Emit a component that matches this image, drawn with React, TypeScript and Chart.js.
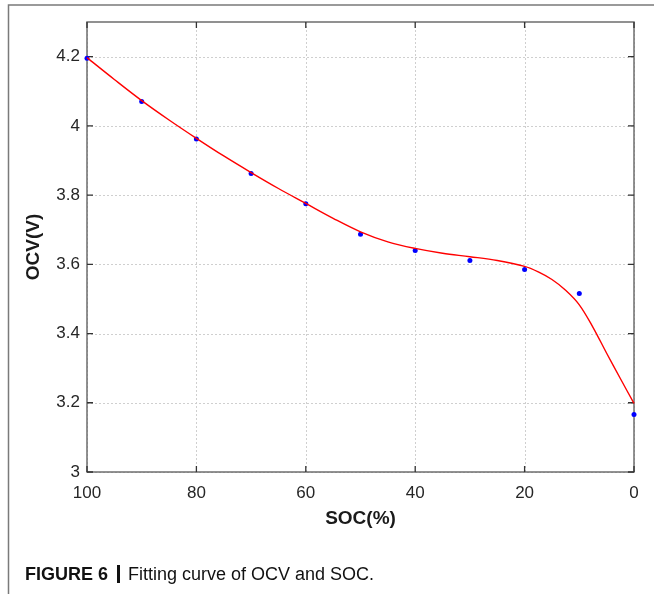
import React, { useEffect, useRef } from "react";
import { Chart, registerables } from "chart.js";

Chart.register(...registerables);

// Fitted curve
const socCurve = [100, 95, 90, 85, 80, 75, 70, 65, 60, 55, 50, 45, 40, 35, 30, 25, 20, 17.5, 15, 12.5, 10, 7.5, 5, 2.5, 0];
const ocvCurve = [4.197, 4.134, 4.073, 4.017, 3.964, 3.913, 3.865, 3.819, 3.776, 3.733, 3.694, 3.665, 3.646, 3.632, 3.622, 3.611, 3.594, 3.578, 3.556, 3.525, 3.483, 3.418, 3.343, 3.27, 3.198];

// Measured points
const socMeasured = [100, 90, 80, 70, 60, 50, 40, 30, 20, 10, 0];
const ocvMeasured = [4.195, 4.07, 3.962, 3.862, 3.775, 3.687, 3.64, 3.611, 3.585, 3.516, 3.166];

const xTicks = [100, 80, 60, 40, 20, 0];
const yTicks = [3, 3.2, 3.4, 3.6, 3.8, 4, 4.2];
const yTickLabels = ["3", "3.2", "3.4", "3.6", "3.8", "4", "4.2"];

const xTitle = "SOC(%)";
const yTitle = "OCV(V)";
const captionBold = "FIGURE 6";
const captionText = "Fitting curve of OCV and SOC.";

const FONT = "'Liberation Sans', Arial, Helvetica, sans-serif";

const framePlugin = {
  id: "framePlugin",
  beforeDatasetsDraw(chart: any) {
    const { ctx, chartArea } = chart;
    const xs = chart.scales.x;
    const ys = chart.scales.y;
    const { left, right, top, bottom } = chartArea;
    ctx.save();
    ctx.strokeStyle = "#cfcfcf";
    ctx.lineWidth = 1;
    ctx.setLineDash([2, 2]);
    xTicks.forEach((v) => {
      const px = Math.round(xs.getPixelForValue(v)) + 0.5;
      ctx.beginPath();
      ctx.moveTo(px, top);
      ctx.lineTo(px, bottom);
      ctx.stroke();
    });
    yTicks.forEach((v) => {
      const py = Math.round(ys.getPixelForValue(v)) + 0.5;
      ctx.beginPath();
      ctx.moveTo(left, py);
      ctx.lineTo(right, py);
      ctx.stroke();
    });
    ctx.setLineDash([]);
    ctx.strokeStyle = "#6e6e6e";
    ctx.lineWidth = 1.5;
    ctx.strokeRect(left, top, right - left, bottom - top);
    ctx.strokeStyle = "#333333";
    ctx.lineWidth = 1.3;
    const tl = 6;
    xTicks.forEach((v) => {
      const px = xs.getPixelForValue(v);
      ctx.beginPath();
      ctx.moveTo(px, bottom);
      ctx.lineTo(px, bottom - tl);
      ctx.moveTo(px, top);
      ctx.lineTo(px, top + tl);
      ctx.stroke();
    });
    yTicks.forEach((v) => {
      const py = ys.getPixelForValue(v);
      ctx.beginPath();
      ctx.moveTo(left, py);
      ctx.lineTo(left + tl, py);
      ctx.moveTo(right, py);
      ctx.lineTo(right - tl, py);
      ctx.stroke();
    });
    ctx.restore();
  },
  afterDraw(chart: any) {
    const { ctx, chartArea } = chart;
    ctx.save();
    ctx.strokeStyle = "#7a7a7a";
    ctx.lineWidth = 1.5;
    ctx.beginPath();
    ctx.moveTo(654, 5);
    ctx.lineTo(8.5, 5);
    ctx.lineTo(8.5, 594);
    ctx.stroke();
    ctx.fillStyle = "#1a1a1a";
    ctx.font = `bold 19px ${FONT}`;
    ctx.textAlign = "center";
    ctx.textBaseline = "middle";
    ctx.fillText(xTitle, (chartArea.left + chartArea.right) / 2, 519);
    ctx.save();
    ctx.translate(34, (chartArea.top + chartArea.bottom) / 2);
    ctx.rotate(-Math.PI / 2);
    ctx.fillText(yTitle, 0, 0);
    ctx.restore();
    ctx.textAlign = "left";
    ctx.textBaseline = "alphabetic";
    ctx.fillStyle = "#111111";
    ctx.font = `bold 18px ${FONT}`;
    ctx.fillText(captionBold, 25, 580);
    ctx.fillRect(117, 565, 3, 18);
    ctx.font = `18px ${FONT}`;
    ctx.fillText(captionText, 128, 580);
    ctx.restore();
  },
};

export default function App() {
  const ref = useRef<HTMLCanvasElement | null>(null);
  useEffect(() => {
    if (!ref.current) return;
    const chart = new Chart(ref.current, {
      type: "scatter",
      data: {
        datasets: [
          {
            label: "fit",
            data: socCurve.map((x, i) => ({ x, y: ocvCurve[i] })),
            showLine: true,
            borderColor: "#ff0000",
            borderWidth: 1.4,
            pointRadius: 0,
            tension: 0.35,
            clip: false,
          } as any,
          {
            label: "measured",
            data: socMeasured.map((x, i) => ({ x, y: ocvMeasured[i] })),
            showLine: false,
            pointRadius: 2.5,
            pointBackgroundColor: "#0000ff",
            pointBorderColor: "#0000ff",
            pointBorderWidth: 0,
            clip: false,
          } as any,
        ],
      },
      options: {
        animation: false,
        responsive: false,
        devicePixelRatio: 1,
        layout: { padding: { left: 0, right: 20, top: 22, bottom: 0 } },
        plugins: { legend: { display: false }, tooltip: { enabled: false }, title: { display: false } },
        scales: {
          x: {
            type: "linear",
            reverse: true,
            min: 0,
            max: 100,
            grid: { display: false, drawTicks: false },
            border: { display: false },
            afterBuildTicks: (scale: any) => {
              scale.ticks = xTicks.map((v) => ({ value: v }));
            },
            afterFit: (scale: any) => {
              scale.height = 122;
            },
            ticks: {
              padding: 11,
              color: "#262626",
              font: { family: FONT, size: 17 },
              callback: (v: any) => String(v),
              maxRotation: 0,
            },
          },
          y: {
            type: "linear",
            min: 3,
            max: 4.3,
            grid: { display: false, drawTicks: false },
            border: { display: false },
            afterBuildTicks: (scale: any) => {
              scale.ticks = yTicks.map((v) => ({ value: v }));
            },
            afterFit: (scale: any) => {
              scale.width = 87;
            },
            ticks: {
              padding: 7,
              color: "#262626",
              font: { family: FONT, size: 17 },
              callback: (v: any) => {
                const i = yTicks.findIndex((t) => Math.abs(t - v) < 1e-6);
                return i >= 0 ? yTickLabels[i] : "";
              },
            },
          },
        },
      },
      plugins: [framePlugin],
    });
    return () => chart.destroy();
  }, []);
  return (
    <div style={{ position: "absolute", left: 0, top: 0, width: 654, height: 594, background: "#fff" }}>
      <canvas ref={ref} width={654} height={594} style={{ display: "block" }} />
    </div>
  );
}
